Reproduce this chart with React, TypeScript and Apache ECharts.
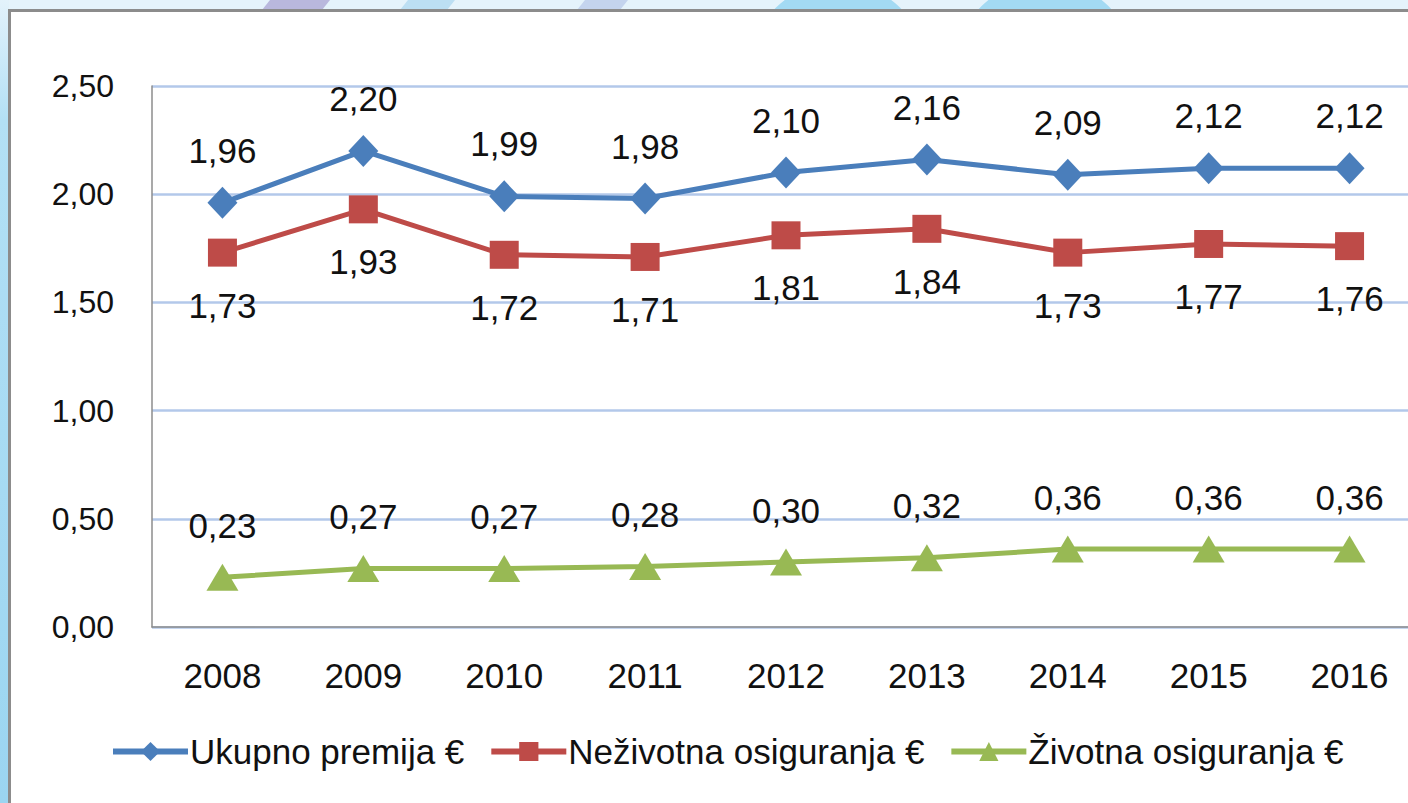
import React, { useEffect, useRef } from "react";
import * as echarts from "echarts";

const years = ["2008", "2009", "2010", "2011", "2012", "2013", "2014", "2015", "2016"];
const ukupno = [1.96, 2.2, 1.99, 1.98, 2.1, 2.16, 2.09, 2.12, 2.12];
const nezivotna = [1.73, 1.93, 1.72, 1.71, 1.81, 1.84, 1.73, 1.77, 1.76];
const zivotna = [0.23, 0.27, 0.27, 0.28, 0.3, 0.32, 0.36, 0.36, 0.36];
const seriesNames = ["Ukupno premija €", "Neživotna osiguranja €", "Životna osiguranja €"];

const FONT = "Liberation Sans";
const fmt = (v: number) => v.toFixed(2).replace(".", ",");

export default function App() {
  const ref = useRef<HTMLDivElement>(null);
  useEffect(() => {
    if (!ref.current) return;
    const chart = echarts.init(ref.current, undefined, { renderer: "svg" });
    const label = (pos: string, d: number) => ({
      show: true,
      position: pos,
      distance: d,
      fontFamily: FONT,
      fontSize: 35,
      color: "#111",
      formatter: (p: any) => fmt(p.value),
    });
    chart.setOption({
      animation: false,
      backgroundColor: "#e5f3fb",
      textStyle: { fontFamily: FONT },
      graphic: [
        { type: "rect", z: -10, shape: { x: 0, y: 0, width: 9, height: 803 },
          style: { fill: new echarts.graphic.LinearGradient(0, 0, 0, 1, [
            { offset: 0, color: "#e3f2fb" }, { offset: 0.15, color: "#b3e0f5" }, { offset: 1, color: "#9bd5f1" }]) } },
        { type: "polygon", z: -10, shape: { points: [[270, 0], [330, 0], [322, 10], [262, 10]] }, style: { fill: "#b9b8dd" } },
        { type: "polygon", z: -10, shape: { points: [[408, 0], [455, 0], [447, 10], [400, 10]] }, style: { fill: "#bcdff3" } },
        { type: "polygon", z: -10, shape: { points: [[585, 0], [628, 0], [620, 10], [577, 10]] }, style: { fill: "#c4d4ee" } },
        { type: "circle", z: -10, shape: { cx: 838, cy: 70, r: 88 }, style: { fill: "#a3daf3" } },
        { type: "circle", z: -10, shape: { cx: 1045, cy: 70, r: 90 }, style: { fill: "#a3daf3" } },
        { type: "rect", z: -5, shape: { x: 9.5, y: 10.5, width: 1430, height: 810 },
          style: { fill: "#ffffff", stroke: "#8c8c8c", lineWidth: 3 } },
      ],
      grid: { left: 152, top: 86, width: 1268, height: 541, containLabel: false },
      xAxis: {
        type: "category",
        data: years,
        boundaryGap: true,
        axisLine: { show: true, lineStyle: { color: "#8c8c8c", width: 1.5 } },
        axisTick: { show: false },
        axisLabel: { fontFamily: FONT, fontSize: 35, color: "#111", margin: 31 },
      },
      yAxis: {
        type: "value",
        min: 0,
        max: 2.5,
        interval: 0.5,
        axisLine: { show: true, lineStyle: { color: "#8c8c8c", width: 1.5 } },
        axisTick: { show: false },
        splitLine: { lineStyle: { color: "#b3c8ea", width: 2.5 } },
        axisLabel: { fontFamily: FONT, fontSize: 32, color: "#111", margin: 38, formatter: (v: number) => fmt(v) },
      },
      legend: {
        left: 105,
        top: 729,
        itemWidth: 75,
        itemHeight: 24,
        itemGap: 24,
        lineStyle: { width: 6 },
        textStyle: { fontFamily: FONT, fontSize: 35, color: "#111", padding: [0, 0, 0, -3] },
        data: seriesNames,
      },
      series: [
        {
          name: seriesNames[0], type: "line", data: ukupno,
          symbol: "diamond", symbolSize: [30, 32],
          lineStyle: { color: "#4a7ebb", width: 5 },
          itemStyle: { color: "#4a7ebb" },
          label: label("top", 19),
        },
        {
          name: seriesNames[1], type: "line", data: nezivotna,
          symbol: "rect", symbolSize: [29, 28],
          lineStyle: { color: "#be4b48", width: 5 },
          itemStyle: { color: "#be4b48" },
          label: label("bottom", 21),
        },
        {
          name: seriesNames[2], type: "line", data: zivotna,
          symbol: "triangle", symbolSize: [32, 27],
          lineStyle: { color: "#98b954", width: 5 },
          itemStyle: { color: "#98b954" },
          label: label("top", 21),
        },
      ],
    });
    return () => chart.dispose();
  }, []);
  return (
    <div style={{ position: "absolute", left: 0, top: 0, width: 1408, height: 803, overflow: "hidden" }}>
      <div ref={ref} style={{ width: 1440, height: 803 }} />
    </div>
  );
}
